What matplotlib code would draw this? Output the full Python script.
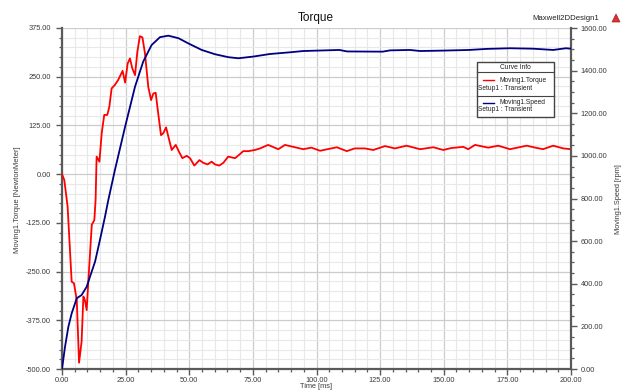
import matplotlib
matplotlib.use("Agg")
import matplotlib.pyplot as plt
from matplotlib.ticker import MultipleLocator, FuncFormatter
from matplotlib.patches import Rectangle, Polygon

plt.rcParams['font.family'] = ['Liberation Sans', 'DejaVu Sans']

# Moving1.Torque [NewtonMeter] vs time [ms]
torque_t = [0, 0.9, 2.2, 3.8, 4.7, 5.8, 6.7, 7.7, 8.4, 9.0,
            9.7, 10.3, 11.7, 12.7, 13.2, 13.6, 14.7, 15.6, 16.6, 17.8,
            18.6, 19.5, 20.8, 22.1, 23.8, 24.8, 25.8, 26.7, 27.6, 28.7,
            29.6, 30.6, 31.6, 32.6, 33.9, 35.0, 35.9, 36.8, 37.8, 38.9,
            39.8, 40.9, 41.8, 43.1, 44.7, 46.0, 47.3, 49.0, 50.3, 52.0,
            54.0, 55.5, 57.2, 58.8, 60.1, 61.8, 63.4, 65.3, 68.0, 69.5,
            71.2, 73.2, 75.8, 77.8, 81.0, 85.0, 87.6, 94.8, 98.0, 101.4,
            108.0, 111.9, 115.0, 119.0, 122.3, 126.9, 130.8, 135.4, 140.7, 145.9,
            149.8, 153.0, 157.7, 159.6, 162.3, 167.5, 171.4, 176.0, 182.6, 186.0,
            189.0, 193.0, 197.0, 200.0]
torque = [0, -15, -83, -276, -280, -323, -484, -430, -314, -323,
          -349, -280, -130, -118, -66, 45, 32, 105, 152, 152,
          173, 220, 229, 242, 265, 235, 284, 297, 272, 254,
          314, 354, 351, 310, 224, 190, 207, 209, 156, 100,
          105, 120, 96, 62, 75, 57, 41, 47, 41, 22,
          36, 29, 25, 32, 25, 22, 29, 45, 41, 49,
          59, 59, 62, 66, 75, 64, 75, 64, 68, 60,
          69, 59, 66, 66, 62, 72, 66, 73, 64, 69,
          62, 67, 70, 64, 75, 68, 73, 64, 73, 68,
          64, 73, 66, 64]

# Moving1.Speed [rpm] vs time [ms]
speed_t = [0, 1.2, 2.5, 3.8, 5.8, 7.7, 9.7, 11.0, 13.0, 14.9,
           16.9, 18.2, 20.8, 24.8, 28.7, 31.9, 35.2, 38.5, 41.8, 45.8,
           49.6, 54.9, 60.1, 65.4, 69.3, 75.2, 81.7, 89.6, 94.8, 109.0,
           112.0, 126.0, 128.9, 136.7, 140.7, 150.0, 160.0, 166.9, 176.0, 185.0,
           193.0, 198.0, 200.0]
speed = [0, 105, 198, 261, 332, 347, 386, 433, 504, 605,
         715, 793, 934, 1137, 1325, 1442, 1520, 1557, 1564, 1552,
         1528, 1497, 1477, 1463, 1458, 1466, 1478, 1486, 1492, 1497,
         1490, 1489, 1495, 1497, 1492, 1494, 1497, 1502, 1505, 1503,
         1497, 1505, 1503]

W, H = 628, 392
fig = plt.figure(figsize=(W / 100, H / 100), dpi=100)
ax = fig.add_axes([62 / W, 1 - 369 / H, (571 - 62) / W, (369 - 28) / H])
ax2 = ax.twinx()

txt_col = '#3a3a3a'
spine_col = '#5a5a5a'
fs_tick = 5.3

ax.plot(torque_t, torque, color='#ff0000', lw=1.3, zorder=3)
ax2.plot(speed_t, speed, color='#000080', lw=1.3, zorder=3)

ax.set_xlim(0, 200)
ax.set_ylim(-500, 375)
ax2.set_ylim(0, 1600)

fmt = FuncFormatter(lambda v, p: f"{v:.2f}")
ax.xaxis.set_major_locator(MultipleLocator(25))
ax.xaxis.set_minor_locator(MultipleLocator(5))
ax.yaxis.set_major_locator(MultipleLocator(125))
ax.yaxis.set_minor_locator(MultipleLocator(25))
ax2.yaxis.set_major_locator(MultipleLocator(200))
ax2.yaxis.set_minor_locator(MultipleLocator(50))
for a in (ax.xaxis, ax.yaxis, ax2.yaxis):
    a.set_major_formatter(fmt)

ax.grid(which='minor', color='#e8e8e8', lw=0.8, zorder=0)
ax.grid(which='major', color='#cccccc', lw=0.9, zorder=0)
ax.set_axisbelow(True)

for a in (ax, ax2):
    a.tick_params(which='major', direction='out', length=4, width=1.0,
                  color=spine_col, labelsize=fs_tick, labelcolor=txt_col, pad=3)
    a.tick_params(which='minor', direction='out', length=2.5, width=0.9,
                  color=spine_col)
    for s in a.spines.values():
        s.set_visible(False)
ax.tick_params(axis='x', which='major', pad=2)
ax.tick_params(axis='y', which='major', pad=4)
ax2.tick_params(axis='y', which='major', pad=3)
ax.spines['left'].set_visible(True)
ax.spines['bottom'].set_visible(True)
ax2.spines['right'].set_visible(True)
for s in (ax.spines['left'], ax.spines['bottom'], ax2.spines['right']):
    s.set_color(spine_col)
    s.set_linewidth(1.6)

# overlay in pixel coordinates for titles, labels and curve info box
ov = fig.add_axes([0, 0, 1, 1], zorder=10)
ov.set_xlim(0, W)
ov.set_ylim(H, 0)
ov.axis('off')
ov.patch.set_alpha(0)

ov.text(316, 18, 'Torque', fontsize=8.5, ha='center', va='center', color='#111111')
ov.text(566, 18, 'Maxwell2DDesign1', fontsize=5.6, ha='center', va='center', color='#222222')
ov.add_patch(Polygon([[612, 22], [620, 22], [616, 14]], closed=True,
                     facecolor='#e03030', edgecolor='#a02020', lw=0.5))
ov.text(300, 387, 'Time [ms]', fontsize=5.3, ha='left', va='center', color=txt_col)
ov.text(18, 200, 'Moving1.Torque [NewtonMeter]', fontsize=5.5, rotation=90,
        ha='center', va='center', color=txt_col)
ov.text(618, 199, 'Moving1.Speed [rpm]', fontsize=5.3, rotation=90,
        ha='center', va='center', color=txt_col)

# curve info box
ov.add_patch(Rectangle((477, 62), 77, 55, facecolor='white', edgecolor='#444444', lw=1.0))
ov.plot([477, 554], [72.3, 72.3], color='#444444', lw=0.8)
ov.plot([477, 554], [95.7, 95.7], color='#444444', lw=0.8)
ov.text(515.5, 67, 'Curve Info', fontsize=4.8, ha='center', va='center', color='#222222')
ov.plot([483, 494], [80, 80], color='#ff0000', lw=1.0)
ov.text(499, 80, 'Moving1.Torque', fontsize=4.8, ha='left', va='center', color='#222222')
ov.text(478, 88.5, 'Setup1 : Transient', fontsize=4.8, ha='left', va='center', color='#222222')
ov.plot([483, 494], [102.5, 102.5], color='#000080', lw=1.0)
ov.text(499, 102.5, 'Moving1.Speed', fontsize=4.8, ha='left', va='center', color='#222222')
ov.text(478, 109.5, 'Setup1 : Transient', fontsize=4.8, ha='left', va='center', color='#222222')

fig.savefig('out.png', dpi=100, facecolor='white')
